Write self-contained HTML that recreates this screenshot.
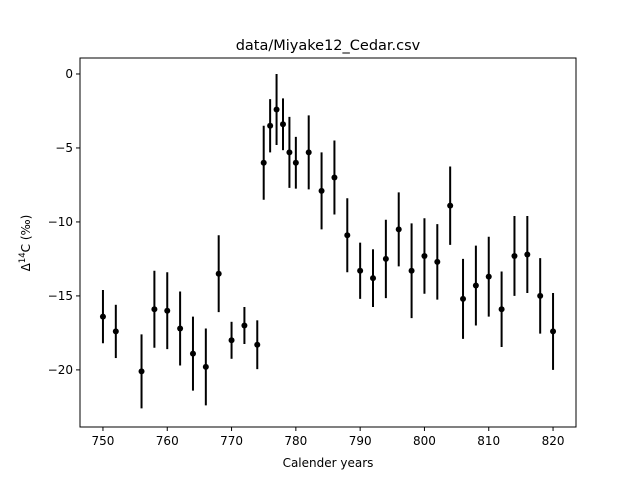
<!DOCTYPE html>
<html><head><meta charset="utf-8"><style>
body{margin:0;background:#fff;}
svg text{font-family:"DejaVu Sans","Liberation Sans",sans-serif;fill:#000;}
</style></head><body>
<svg id="chart" width="640" height="480" xmlns="http://www.w3.org/2000/svg">
<rect width="640" height="480" fill="#fff"/>
<text x="328" y="50" font-size="14.5" text-anchor="middle">data/Miyake12_Cedar.csv</text>
<g id="marks"></g>
<g id="axes"></g>
<text x="328" y="467" font-size="12" text-anchor="middle">Calender years</text>
<text transform="translate(30,243) rotate(-90)" font-size="12" text-anchor="middle">Δ<tspan font-size="8.5" dy="-5">14</tspan><tspan dy="5">C (‰)</tspan></text>
</svg>
<script>
const years=[750,752,756,758,760,762,764,766,768,770,772,774,775,776,777,778,779,780,782,784,786,788,790,792,794,796,798,800,802,804,806,808,810,812,814,816,818,820];
const values=[-16.4,-17.4,-20.1,-15.9,-16.0,-17.2,-18.9,-19.8,-13.5,-18.0,-17.0,-18.3,-6.0,-3.5,-2.4,-3.4,-5.3,-6.0,-5.3,-7.9,-7.0,-10.9,-13.3,-13.8,-12.5,-10.5,-13.3,-12.3,-12.7,-8.9,-15.2,-14.3,-13.7,-15.9,-12.3,-12.2,-15.0,-17.4];
const errors=[1.8,1.8,2.5,2.6,2.6,2.5,2.5,2.6,2.6,1.25,1.25,1.65,2.5,1.8,2.4,1.75,2.4,1.75,2.5,2.6,2.5,2.5,1.9,1.95,2.65,2.5,3.2,2.55,2.55,2.65,2.7,2.7,2.7,2.55,2.7,2.6,2.55,2.6];
const xTicks=[750,760,770,780,790,800,810,820];
const yTicks=[0,-5,-10,-15,-20];
const L=80,R=576,T=58,B=427;
const xMin=746.43,xMax=823.57,yMin=-23.86,yMax=1.08;
const xs=v=>L+(v-xMin)/(xMax-xMin)*(R-L);
const ys=v=>B-(v-yMin)/(yMax-yMin)*(B-T);
const NS="http://www.w3.org/2000/svg";
function mk(tag,attrs,parent){const e=document.createElementNS(NS,tag);for(const k in attrs)e.setAttribute(k,attrs[k]);parent.appendChild(e);return e;}
const marks=document.getElementById('marks'),axes=document.getElementById('axes');
years.forEach((yr,i)=>{
  const x=xs(yr);
  const bar=mk('line',{x1:x,x2:x,y1:ys(values[i]+errors[i]),y2:ys(values[i]-errors[i]),stroke:'#000','stroke-width':2},marks);
  
  
  const pt=mk('circle',{cx:x,cy:ys(values[i]),r:3,fill:'#000'},marks);
  
  
});
const frame=mk('rect',{x:L,y:T,width:R-L,height:B-T,fill:'none',stroke:'#000','stroke-width':1},axes);


xTicks.forEach(t=>{
  const x=xs(t);
  mk('line',{x1:x,x2:x,y1:B,y2:B+4,stroke:'#000'},axes);
  const tx=mk('text',{x:x,y:B+18,'font-size':12,'text-anchor':'middle'},axes);
  tx.textContent=t;
  
  
});
yTicks.forEach(t=>{
  const y=ys(t);
  mk('line',{x1:L-4,x2:L,y1:y,y2:y,stroke:'#000'},axes);
  const tx=mk('text',{x:L-7,y:y+4,'font-size':12,'text-anchor':'end'},axes);
  tx.textContent=t===0?'0':'\u2212'+Math.abs(t);
  
  
});
</script>
</body></html>
